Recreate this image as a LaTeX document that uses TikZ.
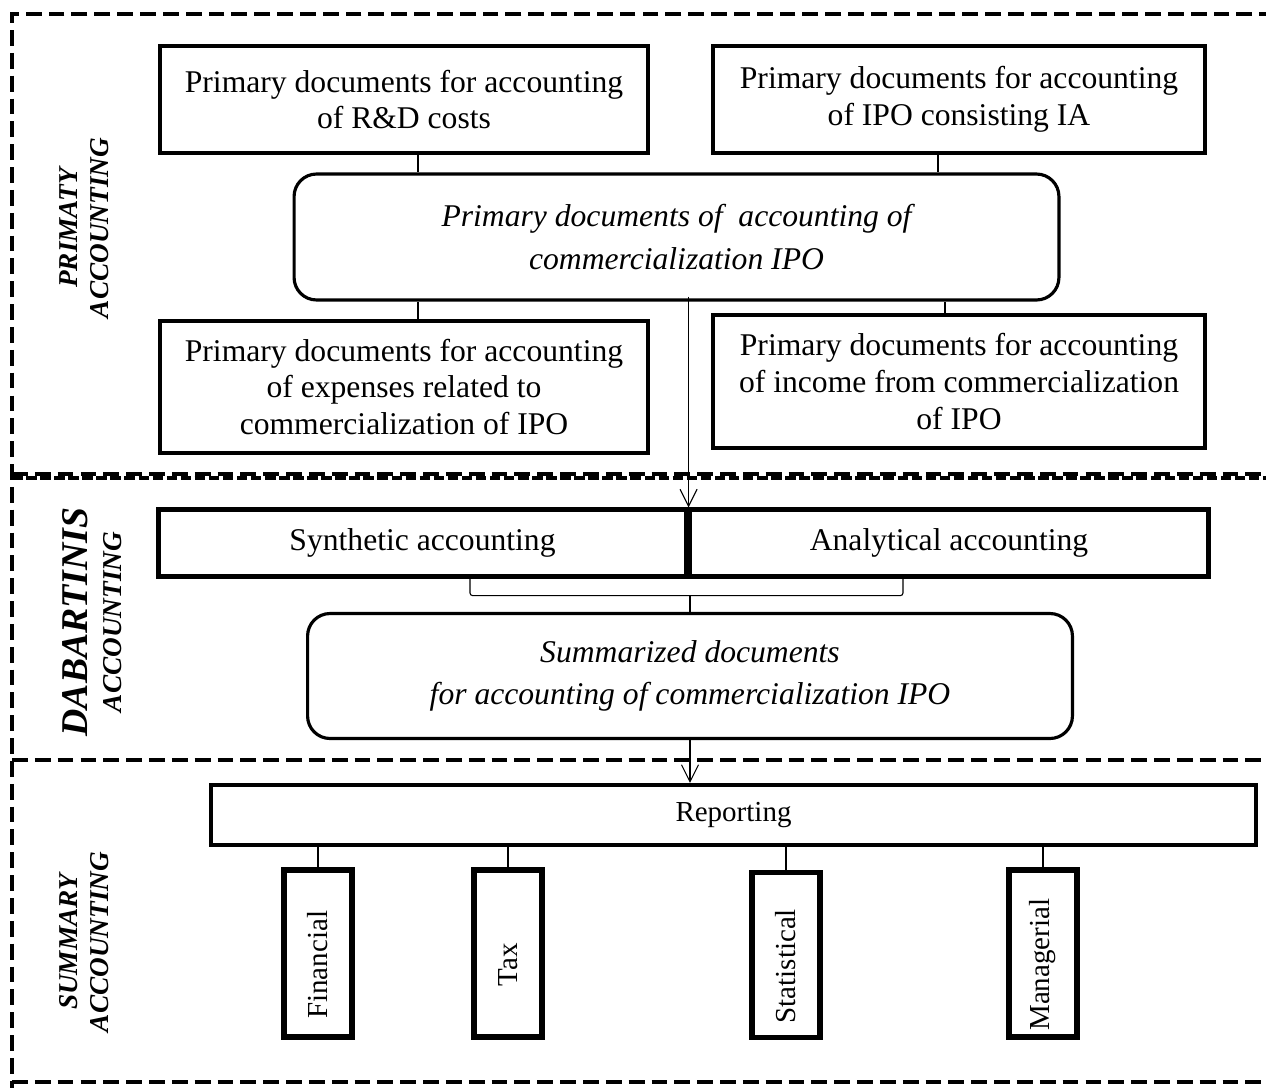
\documentclass[tikz,border=0pt]{standalone}
\usepackage{fontspec}
\setmainfont{Liberation Serif}
\usetikzlibrary{arrows.meta,positioning}

\tikzset{
  docbox/.style={draw, line width=2.4pt, align=center, inner sep=0pt, font=\fontsize{18}{21}\selectfont},
  sumbox/.style={draw, line width=1.8pt, rounded corners=0.45cm, align=center, inner sep=0pt, font=\fontsize{18}{24}\selectfont\itshape},
  repbox/.style={draw, line width=3.2pt, rotate=90, inner sep=0pt, minimum width=3.35cm, minimum height=1.35cm,
    font=\fontsize{16.5}{19}\selectfont, execute at end node={\hspace*{0.45cm}}},
  sidelabel/.style={rotate=90, align=center, font=\fontsize{15.5}{18}\selectfont\bfseries\itshape},
  frame/.style={line width=2.5pt, dash pattern=on 9pt off 4pt},
  link/.style={line width=0.6pt},
  arr/.style={link, -{Straight Barb[length=0.34cm, width=0.34cm]}},
}

\begin{document}
\begin{tikzpicture}[x=0.02cm, y=-0.02cm]
  \useasboundingbox (0,0) rectangle (1266,1088);

  % dashed frames of the three parts
  \draw[frame] (1275,14) -- (12,14) -- (12,1088);
  \draw[frame] (12,474) -- (1275,474);
  \draw[frame, dash pattern=on 6pt off 2pt] (12,478) -- (1275,478);
  \draw[frame] (12,760) -- (1275,760);
  \draw[frame] (12,1082) -- (1275,1082);

  % side labels
  \node[sidelabel] (lprim) at (84,228) {PRIMATY\\ACCOUNTING};
  \node[sidelabel] (ldab) at (92,622) {{\fontsize{21.5}{24}\selectfont DABARTINIS}\\[1pt]ACCOUNTING};
  \node[sidelabel] (lsum) at (84,942) {SUMMARY\\ACCOUNTING};

  % primary accounting
  \node[docbox, minimum width=9.76cm, minimum height=2.14cm] (rdcost) at (404,99.5) {Primary documents for accounting\\of R\&D costs};
  \node[docbox, minimum width=9.84cm, minimum height=2.14cm] (ipoia) at (959,99.5) {Primary documents for accounting\\of IPO consisting IA};
  \node[sumbox, minimum width=15.3cm, minimum height=2.52cm] (primdocs) at (676.5,237) {Primary documents of\ \ accounting of\\commercialization IPO};
  \node[docbox, minimum width=9.76cm, minimum height=2.64cm] (expenses) at (404,387) {Primary documents for accounting\\of expenses related to\\commercialization of IPO};
  \node[docbox, minimum width=9.84cm, minimum height=2.66cm] (income) at (959,381.5) {Primary documents for accounting\\of income from commercialization\\of IPO};

  \draw[link] ([xshift=0.28cm]rdcost.south) -- ([xshift=0.28cm]rdcost.south |- primdocs.north);
  \draw[link] ([xshift=-0.42cm]ipoia.south) -- ([xshift=-0.42cm]ipoia.south |- primdocs.north);
  \draw[link] ([xshift=0.28cm]expenses.north) -- ([xshift=0.28cm]expenses.north |- primdocs.south);
  \draw[link] ([xshift=-0.28cm]income.north) -- ([xshift=-0.28cm]income.north |- primdocs.south);

  % dabartinis accounting
  \node[docbox, minimum width=10.56cm, minimum height=1.34cm] (synth) at (422.5,543) {Synthetic accounting};
  \node[docbox, minimum width=10.38cm, minimum height=1.34cm] (analyt) at (949,543) {Analytical accounting};
  \node[sumbox, minimum width=15.3cm, minimum height=2.5cm] (summ) at (690,676) {Summarized documents\\for accounting of commercialization IPO};

  \draw[arr] ([yshift=0.1cm]primdocs.south -| synth.north east) -- (synth.north east);
  \draw[link, rounded corners=1.5pt] ([xshift=0.95cm]synth.south) -- ++(0,17) -| ([xshift=-0.92cm]analyt.south);
  \draw[link] (summ.north) -- ++(0,-17);

  % summary accounting
  \node[docbox, minimum width=20.9cm, minimum height=1.2cm, font=\fontsize{16.5}{19}\selectfont] (report) at (733.5,815) {Reporting};
  \node[repbox] (fin) at (318,953.5) {Financial};
  \node[repbox] (tax) at (508,953.5) {Tax};
  \node[repbox, minimum width=3.3cm] (stat) at (786,955) {Statistical};
  \node[repbox] (manag) at (1043,953.5) {Managerial};

  \draw[arr] (summ.south) -- (summ.south |- report.north);
  \foreach \n in {fin,tax,stat,manag}
    \draw[link] (\n.east) -- (\n.east |- report.south);
\end{tikzpicture}
\end{document}
